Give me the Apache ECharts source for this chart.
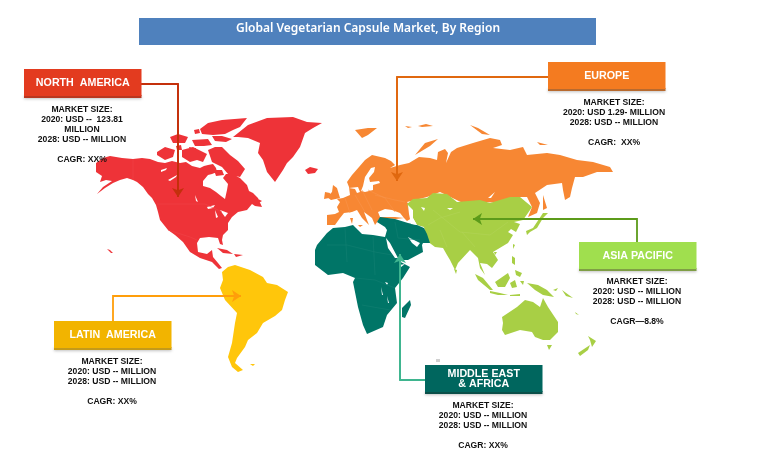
<!DOCTYPE html>
<html><head><meta charset="utf-8">
<style>html,body{margin:0;padding:0;background:#fff}#c{width:763px;height:468px}</style>
<script src="https://cdn.jsdelivr.net/npm/echarts@6/dist/echarts.min.js"></script>
</head><body><div id="c"></div>
<script>
const chartTitle = "Global Vegetarian Capsule Market, By Region";
const regionNames = ["North America","Europe","Asia Pacific","Latin America","Middle East & Africa"];
const regionLabels = [["NORTH  AMERICA"],["EUROPE"],["ASIA PACIFIC"],["LATIN  AMERICA"],["MIDDLE EAST","& AFRICA"]];
const regionNotes = [
 ["MARKET SIZE:","2020: USD --  123.81","MILLION","2028: USD -- MILLION","","CAGR: XX%"],
 ["MARKET SIZE:","2020: USD 1.29- MILLION","2028: USD -- MILLION","","CAGR:  XX%"],
 ["MARKET SIZE:","2020: USD -- MILLION","2028: USD -- MILLION","","CAGR—8.8%"],
 ["MARKET SIZE:","2020: USD -- MILLION","2028: USD -- MILLION","","CAGR: XX%"],
 ["MARKET SIZE:","2020: USD -- MILLION","2028: USD -- MILLION","","CAGR: XX%"]
];
// Map outlines (map units)
const northAmericaLand = [
 [[96,163],[103,158],[110,156],[122,158],[133,159],[142,158],[150,159],[158,162],[165,163],[172,161],[180,163],[186,162],[192,166],[200,168],[204,166],[208,165],[213,164],[216,168],[217,172],[212,174],[208,175],[203,181],[203,186],[210,188],[216,192],[221,196],[225,199],[227,190],[228,184],[223,178],[226,174],[232,174],[240,178],[247,185],[249,191],[253,193],[258,198],[262,207],[255,206],[252,204],[247,210],[238,212],[232,217],[228,223],[228,230],[223,235],[222,240],[223,245],[220,244],[218,238],[209,237],[200,238],[197,243],[198,252],[207,254],[212,250],[213,257],[218,263],[222,268],[219,269],[212,262],[200,258],[190,252],[183,242],[175,235],[168,230],[160,220],[158,212],[156,205],[152,198],[148,194],[143,187],[137,182],[133,180],[127,178],[120,180],[113,183],[105,188],[97,194],[103,187],[112,181],[106,180],[100,182],[102,176],[96,172]],
 [[157,152],[165,147],[175,150],[173,157],[165,160],[157,155]],
 [[170,137],[178,134],[188,137],[185,143],[173,143]],
 [[176,146],[181,145],[182,150],[177,150]],
 [[182,150],[193,147],[199,150],[207,154],[203,162],[197,160],[190,162],[182,157]],
 [[192,140],[208,139],[212,145],[204,146],[195,146]],
 [[200,129],[208,123],[222,120],[247,118],[240,127],[233,130],[225,134],[213,135],[202,134]],
 [[194,130],[199,129],[200,133],[195,134]],
 [[212,136],[222,136],[232,139],[226,142],[215,141]],
 [[208,150],[215,147],[222,147],[230,155],[238,161],[245,169],[240,177],[228,174],[222,167],[212,162]],
 [[214,170],[222,170],[224,175],[216,176]],
 [[189,147],[196,148],[195,152],[190,151]],
 [[233,137],[248,125],[267,118],[293,117],[307,122],[322,123],[313,128],[305,133],[300,147],[293,157],[287,163],[283,170],[275,182],[267,172],[263,160],[258,153],[260,143],[248,138],[238,137]],
 [[305,170],[310,167],[318,169],[315,173],[308,174]],
 [[217,248],[227,250],[233,254],[223,253]],
 [[234,254],[243,255],[236,257]],
 [[107,249],[110,250],[113,253],[111,253]],
 [[254,197],[262,201],[257,204]]
];
const latinAmericaLand = [
 [[222,272],[228,267],[235,265],[250,270],[263,277],[267,283],[277,285],[288,292],[285,300],[282,310],[275,316],[263,323],[257,333],[248,340],[245,347],[237,358],[235,363],[243,370],[238,372],[232,367],[228,357],[232,343],[235,323],[237,313],[225,300],[220,288],[223,280]],
 [[250,364],[255,364],[253,366]],
 [[206,282],[207,282],[207,283]]
];
const europeLand = [
 [[327,215],[335,214],[339,212],[337,207],[340,202],[337,199],[343,198],[350,195],[349,187],[347,182],[352,175],[359,167],[365,160],[372,155],[385,158],[391,161],[395,165],[390,168],[400,165],[409,163],[419,157],[430,158],[437,160],[438,152],[445,149],[448,153],[446,163],[451,152],[457,148],[473,143],[490,138],[500,140],[502,145],[493,148],[510,150],[523,147],[527,155],[547,153],[560,155],[577,160],[593,162],[610,167],[613,172],[597,172],[583,177],[575,177],[572,188],[570,197],[565,200],[563,190],[562,183],[547,185],[535,193],[540,203],[537,213],[528,217],[532,207],[527,197],[513,197],[503,203],[483,202],[467,205],[440,192],[427,197],[407,202],[412,208],[412,218],[407,221],[404,218],[396,219],[380,218],[379,218],[375,225],[372,218],[364,212],[367,220],[369,225],[362,218],[357,210],[352,212],[344,213],[340,218],[335,225],[327,225]],
 [[333,185],[337,188],[340,198],[331,200],[327,197],[332,192]],
 [[325,192],[330,193],[329,198],[324,199]],
 [[355,130],[368,128],[377,128],[368,135],[362,138]],
 [[405,126],[412,127],[408,128]],[[418,126],[426,124],[433,126],[422,127]],
 [[438,139],[425,143],[415,155],[420,152],[430,146]],
 [[470,125],[478,128],[490,135],[482,134]],
 [[537,142],[548,145],[540,145]],
 [[543,195],[547,208],[543,210]],
 [[352,227],[355,227],[355,235],[352,233]],
 [[350,218],[353,218],[352,224]],[[358,225],[363,225],[360,227]]
];
const asiaPacificLand = [
 [[407,204],[413,199],[427,198],[433,193],[447,194],[457,202],[480,200],[490,203],[510,197],[520,197],[532,207],[528,213],[523,220],[514,222],[520,224],[516,232],[511,229],[508,232],[513,235],[508,243],[493,252],[498,260],[492,268],[487,264],[480,263],[485,275],[480,268],[478,258],[470,250],[458,263],[455,270],[450,260],[447,255],[443,248],[435,247],[427,241],[424,227],[417,225],[410,213]],
 [[454,269],[457,270],[456,274]],
 [[543,213],[548,213],[543,218],[540,223],[537,228],[530,232],[527,235],[526,231],[533,228]],
 [[513,244],[515,245],[513,249]],[[494,252],[497,252],[495,255]],
 [[512,256],[515,258],[515,265],[512,263]],[[515,270],[522,273],[520,277],[516,275]],
 [[475,274],[483,278],[493,290],[490,290],[478,280]],
 [[490,291],[500,293],[508,295],[498,295],[490,293]],[[510,295],[520,294],[520,296],[510,296]],
 [[495,282],[508,273],[510,278],[505,287],[498,287]],
 [[510,283],[515,280],[517,287],[512,288]],
 [[520,281],[524,281],[523,285]],
 [[527,283],[538,285],[547,290],[554,297],[543,295],[535,290]],
 [[553,290],[558,288],[556,291]],[[562,290],[573,298],[566,296]],[[575,312],[579,315],[576,314]],
 [[502,317],[517,307],[525,300],[533,302],[540,307],[543,298],[548,307],[558,322],[558,332],[550,340],[543,340],[535,337],[532,332],[520,330],[505,335],[502,330],[503,323]],
 [[547,345],[552,345],[549,350]],
 [[588,336],[596,341],[592,347],[590,340]],[[590,345],[588,350],[580,356],[578,353]]
];
const middleEastAfricaLand = [
 [[315,250],[317,245],[327,233],[333,228],[345,227],[353,225],[358,230],[362,234],[373,235],[385,237],[387,230],[385,227],[377,222],[380,217],[395,219],[408,223],[417,225],[424,228],[427,234],[430,243],[423,243],[422,245],[423,252],[408,260],[397,260],[410,267],[403,278],[395,288],[397,303],[387,315],[383,327],[367,334],[363,325],[358,307],[353,282],[355,278],[343,273],[328,275],[315,265]],
 [[410,300],[411,305],[405,318],[402,317],[402,308]]
];
const waterBodies = [
 [[168,180],[177,175],[176,177],[170,181]],[[161,170],[167,168],[166,170],[161,172]],[[195,195],[198,202],[196,201]],
 [[207,207],[215,205],[213,208],[208,209]],[[215,210],[218,217],[216,218]],[[220,210],[228,213],[225,217]],
 [[168,232],[172,236],[180,247],[178,247],[171,240]],
 [[375,167],[371,168],[365,177],[363,186],[361,191],[365,192],[373,190],[373,185],[380,183],[379,181],[370,182],[369,178],[374,172]],
 [[349,188],[358,187],[360,192],[357,193],[355,189]],
 [[378,212],[385,209],[392,210],[400,213],[404,218],[395,217],[380,217]],
 [[408,205],[413,210],[413,218],[417,225],[411,224],[409,214]],
 [[421,207],[425,208],[424,211]],[[447,208],[453,208],[450,210]],[[488,198],[495,192],[491,198]],
 [[386,238],[390,243],[398,258],[395,258],[388,248]],
 [[408,237],[420,243],[417,247],[412,243]],
 [[399,265],[417,262],[405,264],[401,267]],
 [[385,282],[388,283],[387,285]],[[381,287],[383,295],[382,295]],[[387,296],[389,303],[388,303]]
];
const outlyingIsland = [[[436,359],[440,359],[440,362],[436,362]]];
// Faint political boundaries (map units)
const boundaryLines = {
 "North America":[[[133,159],[133,180]],[[157,204],[205,204],[222,212]],[[168,230],[190,237],[197,240]]],
 "Europe":[[[345,198],[350,213]],[[355,195],[365,212]],[[368,190],[385,198],[395,212]],[[375,195],[395,200],[405,202]],[[362,190],[372,210]]],
 "Asia Pacific":[[[433,210],[460,232],[490,235],[508,222]],[[428,225],[440,218],[460,212]],[[462,232],[475,247]],[[440,230],[447,247]]],
 "Middle East & Africa":[[[327,245],[347,245],[375,252],[392,255]],[[345,228],[347,262]],[[373,236],[375,275]],[[355,278],[375,280],[395,288]],[[362,305],[390,310]],[[395,222],[398,238],[420,240]]]
};
const regionLand = [northAmericaLand,europeLand,asiaPacificLand,latinAmericaLand,middleEastAfricaLand];
const regionColors = ["#EE3338","#F78733","#A8CF45","#FFC60B","#007567"];
const boundaryColors = {"North America":"#F04348","Europe":"#F8934A","Asia Pacific":"#B1D458","Middle East & Africa":"#137F72"};
const boxColors = ["#E33B1F","#F47B20","#A0DF4E","#F2B400","#00665E"];
const boxEdge = ["#B9361F","#B86A2E","#7F9E45","#C49A1A","#0B4F49"];
const lineColors = ["#C4300C","#E0680F","#5C9B1A","#FF9E0A","#3FB58F"];
const connectorPaths = [
 [[141,84],[178,84],[178,197]],
 [[548,77],[397,77],[397,181]],
 [[637,242],[637,219],[473,219]],
 [[113,321],[113,296],[241,296]],
 [[425,380],[400,380],[400,254]]
];
const boxOrigins = [[24,69],[548,62],[579,242],[54,321],[425,365]];
const noteOrigins = [[82,110],[614,103],[637,282],[112,362],[483,406]];

const features = [];
regionNames.forEach((n,i)=>features.push({type:"Feature",properties:{name:n},geometry:{type:"MultiPolygon",coordinates:regionLand[i].map(r=>[r])}}));
features.push({type:"Feature",properties:{name:"water"},geometry:{type:"MultiPolygon",coordinates:waterBodies.map(r=>[r])}});
features.push({type:"Feature",properties:{name:"islet"},geometry:{type:"MultiPolygon",coordinates:outlyingIsland.map(r=>[r])}});
Object.keys(boundaryLines).forEach(n=>features.push({type:"Feature",properties:{name:n+" boundaries"},geometry:{type:"MultiLineString",coordinates:boundaryLines[n]}}));
echarts.registerMap("world",{type:"FeatureCollection",features});

const chart = echarts.init(document.getElementById("c"),null,{renderer:"canvas"});
const regions = regionNames.map((n,i)=>({name:n,itemStyle:{areaColor:regionColors[i],borderWidth:0}}));
regions.push({name:"water",itemStyle:{areaColor:"#fff",borderWidth:0}});
regions.push({name:"islet",itemStyle:{areaColor:"#D0D0D0",borderWidth:0}});
Object.keys(boundaryLines).forEach(n=>regions.push({name:n+" boundaries",itemStyle:{areaColor:"none",borderColor:boundaryColors[n],borderWidth:0.6}}));

const W=117.5,H=28;
const graphics=[
 {type:"rect",shape:{x:139,y:18,width:457,height:27},style:{fill:"#4F81BD"},z:10},
 {type:"text",x:368,y:28.5,style:{text:chartTitle,fill:"#fff",font:'600 12px "Noto Sans"',align:"center",verticalAlign:"middle"},z:11}
];
regionNames.forEach((n,i)=>{
 const [x,y]=boxOrigins[i];
 graphics.push({type:"rect",shape:{x:x,y:y+H-2,width:W,height:3},style:{fill:boxEdge[i],shadowBlur:3,shadowColor:"rgba(0,0,0,.25)",shadowOffsetY:1},z:10});
 graphics.push({type:"rect",shape:{x:x,y:y,width:W,height:H-1},style:{fill:boxColors[i]},z:11});
 const labs=regionLabels[i];
 labs.forEach((t,k)=>graphics.push({type:"text",x:x+W/2,y:y+H/2+(k-(labs.length-1)/2)*10,style:{text:t,fill:"#fff",font:'bold 10.7px "Liberation Sans"',align:"center",verticalAlign:"middle"},z:12}));
 const [nx,ny]=noteOrigins[i];
 regionNotes[i].forEach((t,k)=>{ if(t) graphics.push({type:"text",x:nx,y:ny+k*10,style:{text:t,fill:"#111",font:'bold 8.6px "Liberation Sans"',align:"center",verticalAlign:"middle"},z:12}); });
});

chart.setOption({
 backgroundColor:"#fff",
 animation:false,
 geo:{map:"world",silent:true,roam:false,left:0,top:0,width:763,height:468,
  projection:{project:p=>p,unproject:p=>p},
  boundingCoords:[[0,0],[763,468]],
  itemStyle:{borderWidth:0,areaColor:"#ccc"},
  emphasis:{disabled:true},select:{disabled:true},
  label:{show:false},regions},
 series:[
  {type:"lines",coordinateSystem:"geo",polyline:true,silent:true,z:5,
   data:connectorPaths.map((c,i)=>({coords:c,lineStyle:{color:lineColors[i],width:1.8,opacity:1}}))},
  {type:"lines",coordinateSystem:"geo",silent:true,z:5,symbol:["none","arrow"],symbolSize:9,
   data:connectorPaths.map((c,i)=>({coords:c.slice(-2),lineStyle:{color:lineColors[i],width:1.8,opacity:1}}))}
 ],
 graphic:{elements:graphics}
});
</script></body></html>
